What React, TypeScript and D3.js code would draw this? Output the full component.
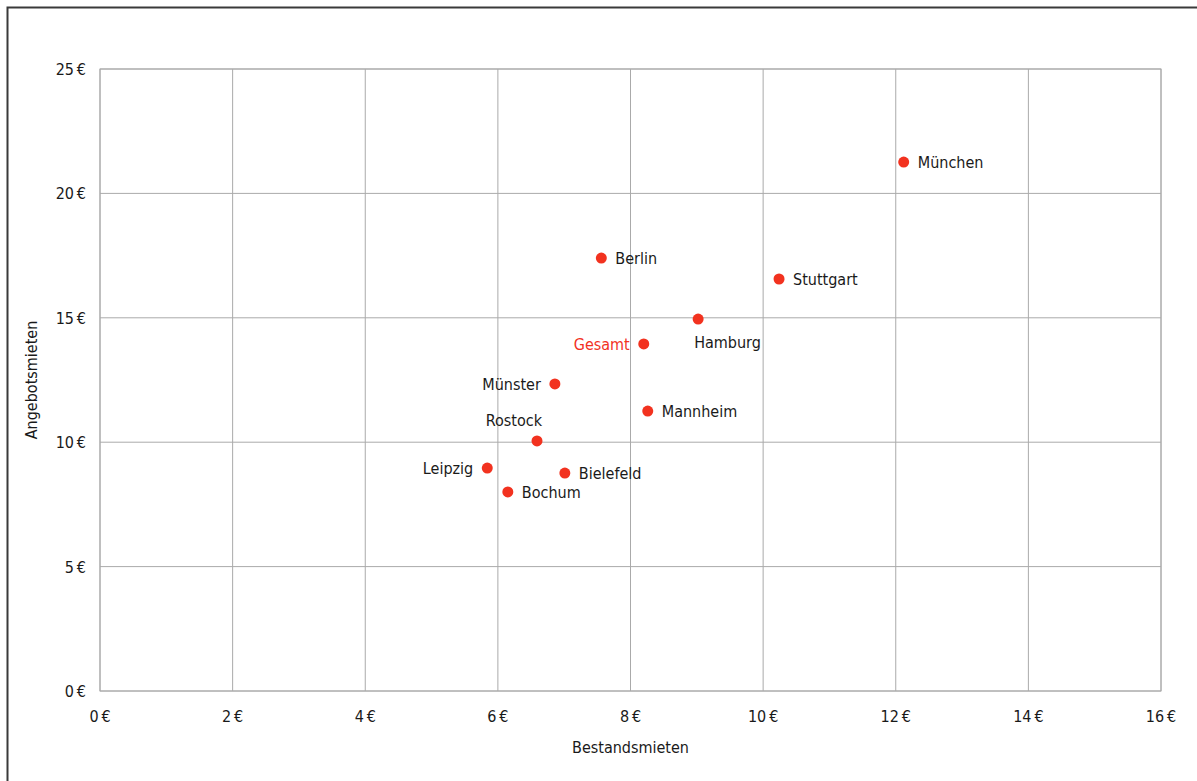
import React from "react";
import * as d3 from "d3";

const cities = ["München", "Berlin", "Stuttgart", "Hamburg", "Gesamt", "Münster", "Mannheim", "Rostock", "Leipzig", "Bielefeld", "Bochum"];
const bestandsmieten = [12.12, 7.56, 10.24, 9.02, 8.2, 6.86, 8.26, 6.59, 5.84, 7.01, 6.15];
const angebotsmieten = [21.26, 17.4, 16.56, 14.95, 13.95, 12.34, 11.25, 10.05, 8.96, 8.76, 8.0];
const xTicks = [0, 2, 4, 6, 8, 10, 12, 14, 16];
const yTicks = [0, 5, 10, 15, 20, 25];

// label placement (presentation only)
const placement: Record<string, "right" | "left" | "above" | "below"> = {
  "München": "right", Berlin: "right", Stuttgart: "right", Hamburg: "below", Gesamt: "left",
  "Münster": "left", Mannheim: "right", Rostock: "above", Leipzig: "left", Bielefeld: "right", Bochum: "right",
};

const W = 1197, H = 781;
const M = { left: 100, right: 1161, top: 69, bottom: 691 };
const RED = "#f2321f";
const FONT = "'Liberation Sans Narrow', 'DejaVu Sans Condensed', 'Roboto', sans-serif";

export default function App() {
  const x = d3.scaleLinear().domain([0, 16]).range([M.left, M.right]);
  const y = d3.scaleLinear().domain([0, 25]).range([M.bottom, M.top]);
  return (
    <svg width={W} height={H} style={{ position: "absolute", left: 0, top: 0, fontFamily: FONT }}>
      <rect x={0} y={0} width={W} height={H} fill="#fff" />
      <path d={`M7.5,${H + 5}V7.5H${W + 5}`} fill="none" stroke="#3a3a3a" strokeWidth={2} />
      {xTicks.map((t) => (
        <line key={"gx" + t} x1={x(t)} x2={x(t)} y1={M.top} y2={M.bottom} stroke="#aaa" strokeWidth={1} />
      ))}
      {yTicks.map((t) => (
        <line key={"gy" + t} x1={M.left} x2={M.right} y1={y(t)} y2={y(t)} stroke="#aaa" strokeWidth={1} />
      ))}
      <rect x={M.left} y={M.top} width={M.right - M.left} height={M.bottom - M.top} fill="none" stroke="#aaa" strokeWidth={1} />
      {xTicks.map((t) => (
        <text key={"tx" + t} x={x(t)} y={M.bottom + 31} textAnchor="middle" fontSize={16} fill="#1a1a1a">{`${t}\u2009€`}</text>
      ))}
      {yTicks.map((t) => (
        <text key={"ty" + t} x={M.left - 14} y={y(t) + 6} textAnchor="end" fontSize={16} fill="#1a1a1a">{`${t}\u2009€`}</text>
      ))}
      <text x={(M.left + M.right) / 2} y={753} textAnchor="middle" fontSize={16} fill="#1a1a1a">Bestandsmieten</text>
      <text transform={`translate(37,${(M.top + M.bottom) / 2}) rotate(-90)`} textAnchor="middle" fontSize={16} fill="#1a1a1a">Angebotsmieten</text>
      {cities.map((c, i) => {
        const cx = x(bestandsmieten[i]);
        const cy = y(angebotsmieten[i]);
        const p = placement[c];
        let tx = cx + 14, ty = cy + 6, anchor = "start";
        if (p === "left") { tx = cx - 14; anchor = "end"; }
        if (p === "above") { tx = cx + 5; ty = cy - 15; anchor = "end"; }
        if (p === "below") { tx = cx - 4; ty = cy + 29; anchor = "start"; }
        return (
          <g key={c}>
            <circle cx={cx} cy={cy} r={5.5} fill={RED} />
            <text x={tx} y={ty} textAnchor={anchor} fontSize={16} fill={c === "Gesamt" ? RED : "#1a1a1a"}>{c}</text>
          </g>
        );
      })}
    </svg>
  );
}
